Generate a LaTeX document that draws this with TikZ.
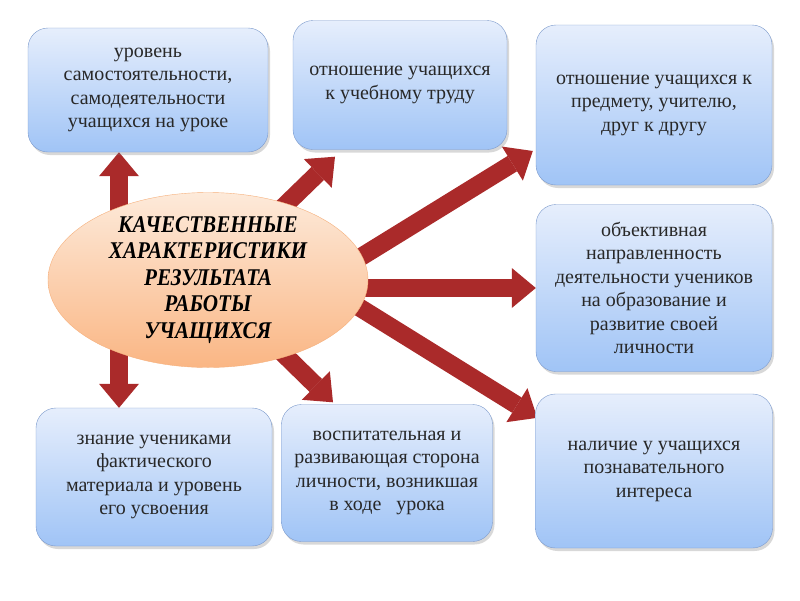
\documentclass[tikz,border=0pt]{standalone}
\usepackage{fontspec}
\setmainfont{Liberation Serif}
\usetikzlibrary{arrows.meta,shapes.geometric,positioning,shadows,backgrounds,calc}

\definecolor{boxtop}{RGB}{230,238,252}
\definecolor{boxbottom}{RGB}{160,196,246}
\definecolor{boxline}{RGB}{125,155,205}
\definecolor{ovaltop}{RGB}{253,234,218}
\definecolor{ovalbottom}{RGB}{250,182,132}
\definecolor{ovalline}{RGB}{246,176,124}
\definecolor{arrowred}{RGB}{170,42,42}
\definecolor{boxtext}{RGB}{40,40,40}

\tikzset{
  box/.style={draw=boxline, rounded corners=20pt, top color=boxtop, bottom color=boxbottom,
    align=center, text=boxtext, font=\fontsize{20}{23.5}\selectfont,
    drop shadow={opacity=0.3,shadow xshift=2pt,shadow yshift=-3pt}},
  oval/.style={ellipse, draw=ovalline, top color=ovaltop, bottom color=ovalbottom,
    minimum width=320pt, minimum height=175pt, inner sep=0pt},
  ovaltext/.style={align=center, font=\fontsize{24}{26.5}\selectfont\bfseries\itshape\addfontfeatures{FakeStretch=0.88}},
  fatarrow/.style={line width=18pt, color=arrowred,
    -{Triangle[width=40pt,length=24pt,line width=0pt,fill=arrowred]}}
}

\begin{document}
\begin{tikzpicture}[x=1pt,y=-1pt,node distance=183pt]
             \useasboundingbox (0,0) rectangle (800,600);
             \node[oval] (core) at (208,280) {};
             \node[ovaltext] (coretxt) at (core) {КАЧЕСТВЕННЫЕ\\ХАРАКТЕРИСТИКИ\\РЕЗУЛЬТАТА\\РАБОТЫ\\УЧАЩИХСЯ};
             \node[box, minimum width=236pt, minimum height=167pt] (b4) [right of=core, xshift=263pt, yshift=-8pt]
                   {объективная\\направленность\\деятельности учеников\\на образование и\\развитие своей\\личности};
             \node[box, minimum width=236pt, minimum height=160pt] (b3) [above of=b4]
                   {отношение учащихся к\\предмету, учителю,\\друг к другу};
             \node[box, minimum width=237pt, minimum height=154pt] (b5) [below of=b4]
                   {наличие у учащихся\\познавательного\\интереса};
             \node[box, minimum width=214pt, minimum height=129pt] (b2) [left of=b3, xshift=-71pt, yshift=20pt]
                   {отношение учащихся\\к учебному труду};
             \node[box, minimum width=240pt, minimum height=124pt] (b1) [left of=b2, xshift=-69pt, yshift=-5pt]
                   {уровень\\самостоятельности,\\самодеятельности\\учащихся на уроке};
             \node[box, minimum width=211pt, minimum height=137pt] (b6) [below of=core, xshift=179pt, yshift=-10pt]
                   {воспитательная и\\развивающая сторона\\личности, возникшая\\в ходе\ \ \ урока};
             \node[box, minimum width=236pt, minimum height=138pt] (b7) [left of=b6, xshift=-50pt, yshift=-4pt]
                   {знание учениками\\фактического\\материала и уровень\\его усвоения};
             \begin{scope}[on background layer]
             \fill[white] (0,0) rectangle (800,600);
             \path[fatarrow]
             ($(core.center)+(-89,0)$) edge ($(b1.south)+(-29,0)$)
                                       edge ($(b7.north)+(-35,0)$)
             (core.center) edge ($(b2.south)+(-65,7)$)
                           edge ($(b6.north)+(-54,-2)$)
             ($(core.center)+(122,-4)$) edge ($(b3.west)+(-3,46)$)
             (b4.west -| core.center) edge (b4.west)
             ($(core.center)+(112,3)$) edge ($(b5.north west)+(2,24)$);
             \end{scope}
\end{tikzpicture}
\end{document}
